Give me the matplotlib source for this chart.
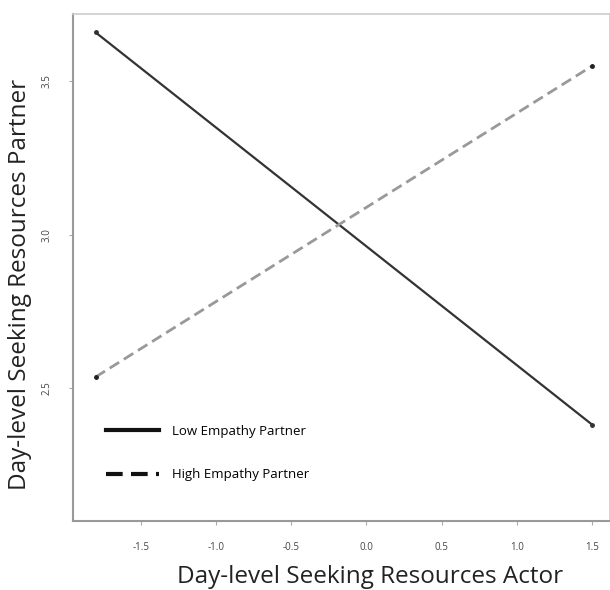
import matplotlib.pyplot as plt

# simple slopes: seeking resources actor vs partner
actor_x = [-1.8, 1.5]
low_empathy = [3.66, 2.38]
high_empathy = [2.535, 3.55]
x_ticks = [-1.5, -1.0, -0.5, 0.0, 0.5, 1.0, 1.5]
y_ticks = [2.5, 3.0, 3.5]

plt.rcParams['font.family'] = ['Open Sans', 'DejaVu Sans']

fig = plt.figure(figsize=(6.1, 5.9), dpi=100)
ax = fig.add_axes([73 / 610, 1 - 521 / 590, 537 / 610, 507 / 590])

ax.plot(actor_x, low_empathy, color='#333333', lw=1.6, marker='o', ms=2.5)
ax.plot(actor_x, high_empathy, color='#999999', lw=2.0, ls=(0, (4, 2)),
        marker='o', ms=2.5, mfc='#222222', mec='#222222')

ax.set_xlim(-1.95, 1.62)
ax.set_ylim(2.065, 3.72)
ax.set_xticks(x_ticks)
ax.set_xticklabels([f'{v:.1f}' for v in x_ticks])
ax.set_yticks(y_ticks)
ax.set_yticklabels([f'{v:.1f}' for v in y_ticks], rotation=90, va='center')
ax.tick_params(labelsize=7, length=3, color='#aaaaaa', labelcolor='#444444', pad=12)

for side in ['left', 'bottom']:
    ax.spines[side].set_color('#999999')
    ax.spines[side].set_linewidth(1.5)
for side in ['top', 'right']:
    ax.spines[side].set_color('#cccccc')
    ax.spines[side].set_linewidth(1.2)

# axis titles placed by hand, as in the original figure
fig.text(370 / 610, 1 - 577 / 590, 'Day-level Seeking Resources Actor',
         fontsize=17.5, color='#222222', ha='center', va='center')
fig.text(20 / 610, 1 - 284 / 590, 'Day-level Seeking Resources Partner',
         fontsize=17.5, color='#222222', ha='center', va='center', rotation=90)

# legend drawn inside the plot area
leg = ax.legend(['Low Empathy Partner', 'High Empathy Partner'], loc='lower left',
                bbox_to_anchor=(0.04, 0.055), frameon=False, fontsize=9.5,
                handlelength=4.0, labelspacing=2.3, handletextpad=1.0)
for h in leg.get_lines():
    h.set_marker('')
    h.set_color('#111111')
    h.set_linewidth(3)

fig.savefig('out.png', dpi=100)
